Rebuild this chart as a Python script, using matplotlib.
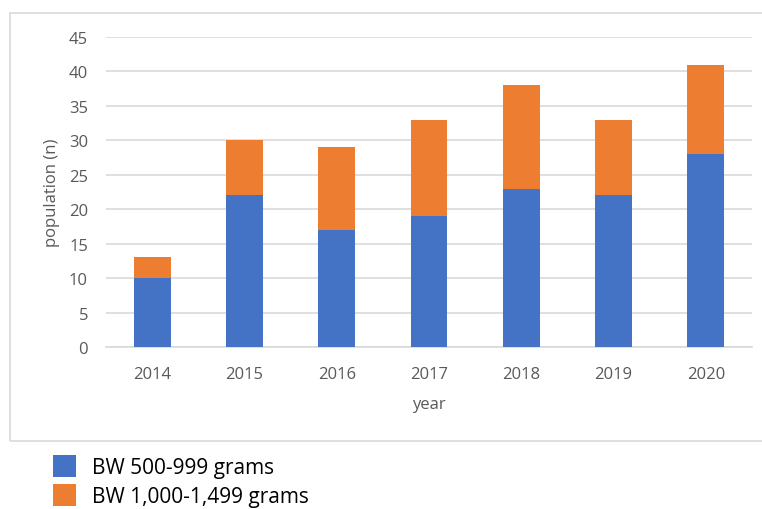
import numpy as np
import matplotlib.pyplot as plt
from matplotlib.patches import Rectangle, Patch

plt.rcParams['font.family'] = ['Open Sans', 'DejaVu Sans']

years = ['2014', '2015', '2016', '2017', '2018', '2019', '2020']
bw_500_999 = [10, 22, 17, 19, 23, 22, 28]
bw_1000_1499 = [3, 8, 12, 14, 15, 11, 13]

blue = '#4472c4'
orange = '#ed7d31'
grey_txt = '#595959'
grid_col = '#d9d9d9'

W, H = 762, 510
fig = plt.figure(figsize=(W / 100, H / 100), dpi=100)

# chart frame (runs off the right edge)
fig.patches.append(Rectangle((10 / W, 1 - 442 / H), 1.0, (442 - 14) / H,
                             transform=fig.transFigure, fill=False,
                             edgecolor=grid_col, linewidth=1.2))

ax = fig.add_axes([106 / W, 1 - 348 / H, (752 - 106) / W, (348 - 38) / H])
x = np.arange(len(years))
ax.bar(x, bw_500_999, width=0.4, color=blue, zorder=3)
ax.bar(x, bw_1000_1499, width=0.4, bottom=bw_500_999, color=orange, zorder=3)

ax.set_xlim(-0.5, len(years) - 0.5)
ax.set_ylim(0, 45)
ax.set_yticks(range(0, 46, 5))
ax.set_xticks(x)
ax.set_xticklabels(years)
ax.yaxis.grid(True, color=grid_col, linewidth=1.2, zorder=0)
ax.tick_params(axis='both', length=0, labelsize=12, labelcolor=grey_txt)
ax.tick_params(axis='y', pad=13)
ax.tick_params(axis='x', pad=14)
for s in ['top', 'right', 'left']:
    ax.spines[s].set_visible(False)
ax.spines['bottom'].set_color(grid_col)
ax.spines['bottom'].set_linewidth(1.2)

ax.set_ylabel('population (n)', fontsize=12, color=grey_txt, labelpad=6)
ax.set_xlabel('year', fontsize=12, color=grey_txt, labelpad=10)

handles = [Patch(facecolor=blue), Patch(facecolor=orange)]
fig.legend(handles, ['BW 500-999 grams', 'BW 1,000-1,499 grams'],
           loc='upper left', bbox_to_anchor=(34 / W, 1 - 437 / H),
           frameon=False, fontsize=15, handlelength=1.1, handleheight=1.25,
           handletextpad=0.8, labelspacing=0.3)

fig.savefig('out.png', dpi=100)
